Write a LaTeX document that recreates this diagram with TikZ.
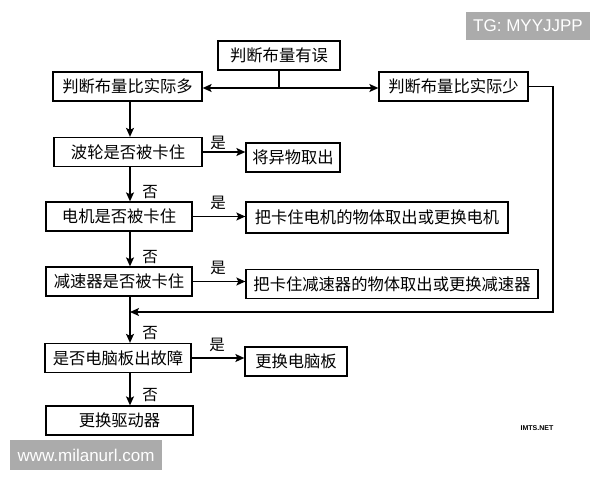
\documentclass[tikz,border=0pt]{standalone}
\usepackage{fontspec}
\setmainfont{Noto Sans CJK SC}
\newfontfamily\marcafont{Liberation Sans}
\usetikzlibrary{arrows.meta}

\begin{document}
\begin{tikzpicture}[
    x=1pt, y=-1pt,
    % cajas del diagrama
    cajaPaso/.style={draw=black, line width=1.3pt, fill=white, minimum height=29pt, inner sep=1pt, font=\fontsize{16.3}{17}\selectfont},
    flechaFlujo/.style={-{Stealth[length=9pt,width=8pt,inset=2pt]}, line width=1.3pt},
    lineaFlujo/.style={line width=1.3pt},
    etiqueta/.style={font=\fontsize{15.5}{16}\selectfont, inner sep=0pt},
    marca/.style={fill=black!33, text=white, font=\marcafont\fontsize{17}{18}\selectfont, inner sep=0pt}
]
    \useasboundingbox (0,0) rectangle (600,480);

    % --- MARCAS DE AGUA ---
    \node[marca, minimum width=124pt, minimum height=28pt] (tg)  at (528,26)  {TG: MYYJJPP};
    \node[marca, minimum width=152pt, minimum height=30pt] (web) at (86,455)  {www.milanurl.com};
    \node[font=\marcafont\bfseries\fontsize{7}{7}\selectfont, inner sep=0pt] (net) at (537,428) {IMTS.NET};

    % --- CAJAS ---
    \node[cajaPaso, minimum width=122pt] (err)        at (279,55.5)  {判断布量有误};
    \node[cajaPaso, minimum width=149pt] (mas)        at (127.5,86.5) {判断布量比实际多};
    \node[cajaPaso, minimum width=149pt] (menos)      at (453.5,86.5) {判断布量比实际少};

    \node[cajaPaso, minimum width=148pt] (bolsa)      at (128,152)   {波轮是否被卡住};
    \node[cajaPaso, minimum width=94pt]  (sacar)      at (293,157.5) {将异物取出};

    \node[cajaPaso, minimum width=146pt] (motor)      at (119,216.5) {电机是否被卡住};
    \node[cajaPaso, minimum width=262pt, minimum height=31pt] (motorFix) at (377,217.5) {把卡住电机的物体取出或更换电机};

    \node[cajaPaso, minimum width=146pt] (reductor)   at (119,281.5) {减速器是否被卡住};
    \node[cajaPaso, minimum width=292pt] (reductorFix) at (392,284)  {把卡住减速器的物体取出或更换减速器};

    \node[cajaPaso, minimum width=146pt] (placa)      at (118,358)   {是否电脑板出故障};
    \node[cajaPaso, minimum width=102pt] (placaFix)   at (296,361.5) {更换电脑板};

    \node[cajaPaso, minimum width=147pt] (driver)     at (119.5,420.5) {更换驱动器};

    % --- PUNTOS AUXILIARES ---
    \coordinate (eje)     at (130,0);
    \coordinate (horq)    at (279,88);
    \coordinate (retorno) at (553,312);

    % --- DIVISIÓN SUPERIOR ---
    \draw[lineaFlujo] (err.south) -- (horq);
    \draw[flechaFlujo] (horq) -- (horq -| mas.east);
    \draw[flechaFlujo] (horq) -- (horq -| menos.west);

    % --- EJE PRINCIPAL (否) ---
    \draw[flechaFlujo] (mas.south -| eje) -- (bolsa.north -| eje);
    \draw[flechaFlujo] (bolsa.south -| eje) -- (motor.north -| eje);
    \draw[flechaFlujo] (motor.south -| eje) -- (reductor.north -| eje);
    \draw[flechaFlujo] (reductor.south -| eje) -- (placa.north -| eje);
    \draw[flechaFlujo] (placa.south -| eje) -- (driver.north -| eje);

    % --- RETORNO DESDE LA DERECHA ---
    \draw[flechaFlujo] (menos.east) -| (retorno) -- (retorno -| eje);

    % --- RAMAS (是) ---
    \draw[flechaFlujo] (bolsa.east) -- (bolsa.east -| sacar.west);
    \draw[flechaFlujo] (motor.east) -- (motor.east -| motorFix.west);
    \draw[flechaFlujo] (reductor.east) -- (reductor.east -| reductorFix.west);
    \draw[flechaFlujo] (placa.east) -- (placa.east -| placaFix.west);

    % --- ETIQUETAS ---
    \node[etiqueta] (si1) at (218,143) {是};
    \node[etiqueta] (si2) at (218,203) {是};
    \node[etiqueta] (si3) at (218,268) {是};
    \node[etiqueta] (si4) at (217,345) {是};

    \node[etiqueta] (no1) at (150,192) {否};
    \node[etiqueta] (no2) at (150,257) {否};
    \node[etiqueta] (no3) at (150,333) {否};
    \node[etiqueta] (no4) at (150,395) {否};

\end{tikzpicture}
\end{document}
